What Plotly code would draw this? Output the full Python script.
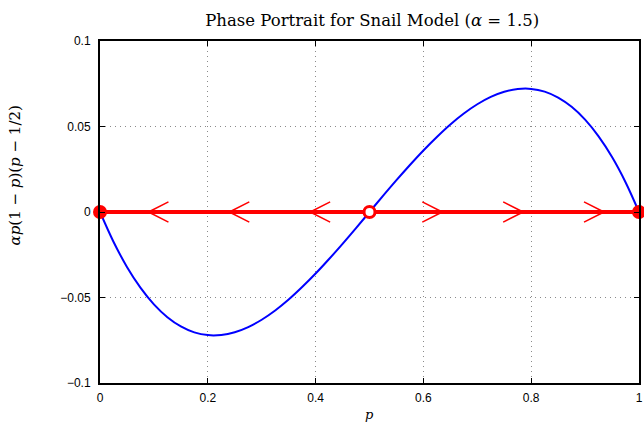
import plotly.graph_objects as go

# Curve values (uniform p steps of 0.025)
p_vals = [0, 0.025, 0.05, 0.075, 0.1, 0.125, 0.15, 0.175, 0.2, 0.225, 0.25, 0.275, 0.3,
          0.325, 0.35, 0.375, 0.4, 0.425, 0.45, 0.475, 0.5,
          0.525, 0.55, 0.575, 0.6, 0.625, 0.65, 0.675, 0.7, 0.725, 0.75, 0.775, 0.8,
          0.825, 0.85, 0.875, 0.9, 0.925, 0.95, 0.975, 1.0]
f_vals = [0, -0.0174, -0.0321, -0.0442, -0.054, -0.0615, -0.0669, -0.0704, -0.072, -0.0719,
          -0.0703, -0.0673, -0.063, -0.0576, -0.0512, -0.0439, -0.036, -0.0275, -0.0186,
          -0.0094, 0,
          0.0094, 0.0186, 0.0275, 0.036, 0.0439, 0.0512, 0.0576, 0.063, 0.0673, 0.0703,
          0.0719, 0.072, 0.0704, 0.0669, 0.0615, 0.054, 0.0442, 0.0321, 0.0174, 0]

# Equilibria
eq_stable = [0, 1]
eq_unstable = [0.5]

# Arrow tips along the p-axis (direction: -1 left, +1 right)
arrow_tips = [0.09, 0.24, 0.39, 0.635, 0.785, 0.935]
arrow_dirs = [-1, -1, -1, 1, 1, 1]
arrow_len = 0.037
arrow_half = 0.0059

x_ticks = [0, 0.2, 0.4, 0.6, 0.8, 1]
x_labels = ["0", "0.2", "0.4", "0.6", "0.8", "1"]
y_ticks = [-0.1, -0.05, 0, 0.05, 0.1]
y_labels = ["\u22120.1", "\u22120.05", "0", "0.05", "0.1"]

fig = go.Figure()

fig.add_trace(go.Scatter(x=p_vals, y=f_vals, mode="lines",
                         line=dict(color="#0000FF", width=2, shape="spline", smoothing=1),
                         hoverinfo="skip", showlegend=False))

fig.add_trace(go.Scatter(x=[eq_stable[0], eq_stable[-1]], y=[0, 0], mode="lines",
                         line=dict(color="#FF0000", width=4),
                         showlegend=False, cliponaxis=False))

ax, ay = [], []
for t, d in zip(arrow_tips, arrow_dirs):
    back = t - d * arrow_len
    ax += [back, t, back, None]
    ay += [arrow_half, 0, -arrow_half, None]
fig.add_trace(go.Scatter(x=ax, y=ay, mode="lines",
                         line=dict(color="#FF0000", width=1.5),
                         showlegend=False))

fig.add_trace(go.Scatter(x=eq_stable, y=[0] * len(eq_stable), mode="markers",
                         marker=dict(color="#FF0000", size=14, line=dict(width=0)),
                         showlegend=False, cliponaxis=False))
fig.add_trace(go.Scatter(x=eq_unstable, y=[0] * len(eq_unstable), mode="markers",
                         marker=dict(color="white", size=11,
                                     line=dict(color="#FF0000", width=3)),
                         showlegend=False, cliponaxis=False))

serif = "DejaVu Serif, Liberation Serif, serif"
sans = "Liberation Sans, Arial, sans-serif"

fig.update_layout(
    width=644, height=427,
    margin=dict(l=100, r=1, t=41, b=44),
    paper_bgcolor="white", plot_bgcolor="white",
    font=dict(family=sans, size=12, color="black"),
    title=dict(text="Phase Portrait for Snail Model (<i>\u03b1</i> = 1.5)",
               x=0.505, xref="paper", xanchor="center",
               y=0.953, yref="container", yanchor="middle",
               font=dict(family=serif, size=16.5, color="black")),
    xaxis=dict(range=[0, 1], tickvals=x_ticks, ticktext=x_labels,
               showline=True, linecolor="black", linewidth=2, mirror="ticks",
               ticks="inside", ticklen=5, tickwidth=1, tickcolor="black",
               ticklabelstandoff=3, ticklabeloverflow="allow",
               showgrid=True, gridcolor="#8a8a8a", gridwidth=1, griddash="1px,4px",
               zeroline=False, fixedrange=True),
    yaxis=dict(range=[-0.1, 0.1], tickvals=y_ticks, ticktext=y_labels,
               showline=True, linecolor="black", linewidth=2, mirror="ticks",
               ticks="inside", ticklen=5, tickwidth=1, tickcolor="black",
               ticklabelstandoff=5, ticklabeloverflow="allow",
               showgrid=True, gridcolor="#8a8a8a", gridwidth=1, griddash="1px,4px",
               zeroline=False, fixedrange=True),
    annotations=[
        dict(text="<i>p</i>", x=0.5, y=-0.093, xref="paper", yref="paper",
             showarrow=False, font=dict(family=serif, size=13, color="black"),
             xanchor="center", yanchor="middle"),
        dict(text="<i>\u03b1p</i>(1 \u2212 <i>p</i>)(<i>p</i> \u2212 1/2)",
             x=-0.157, y=0.608, xref="paper", yref="paper", textangle=-90,
             showarrow=False, font=dict(family=serif, size=15, color="black"),
             xanchor="center", yanchor="middle"),
    ],
)

fig.write_html("out.html")
